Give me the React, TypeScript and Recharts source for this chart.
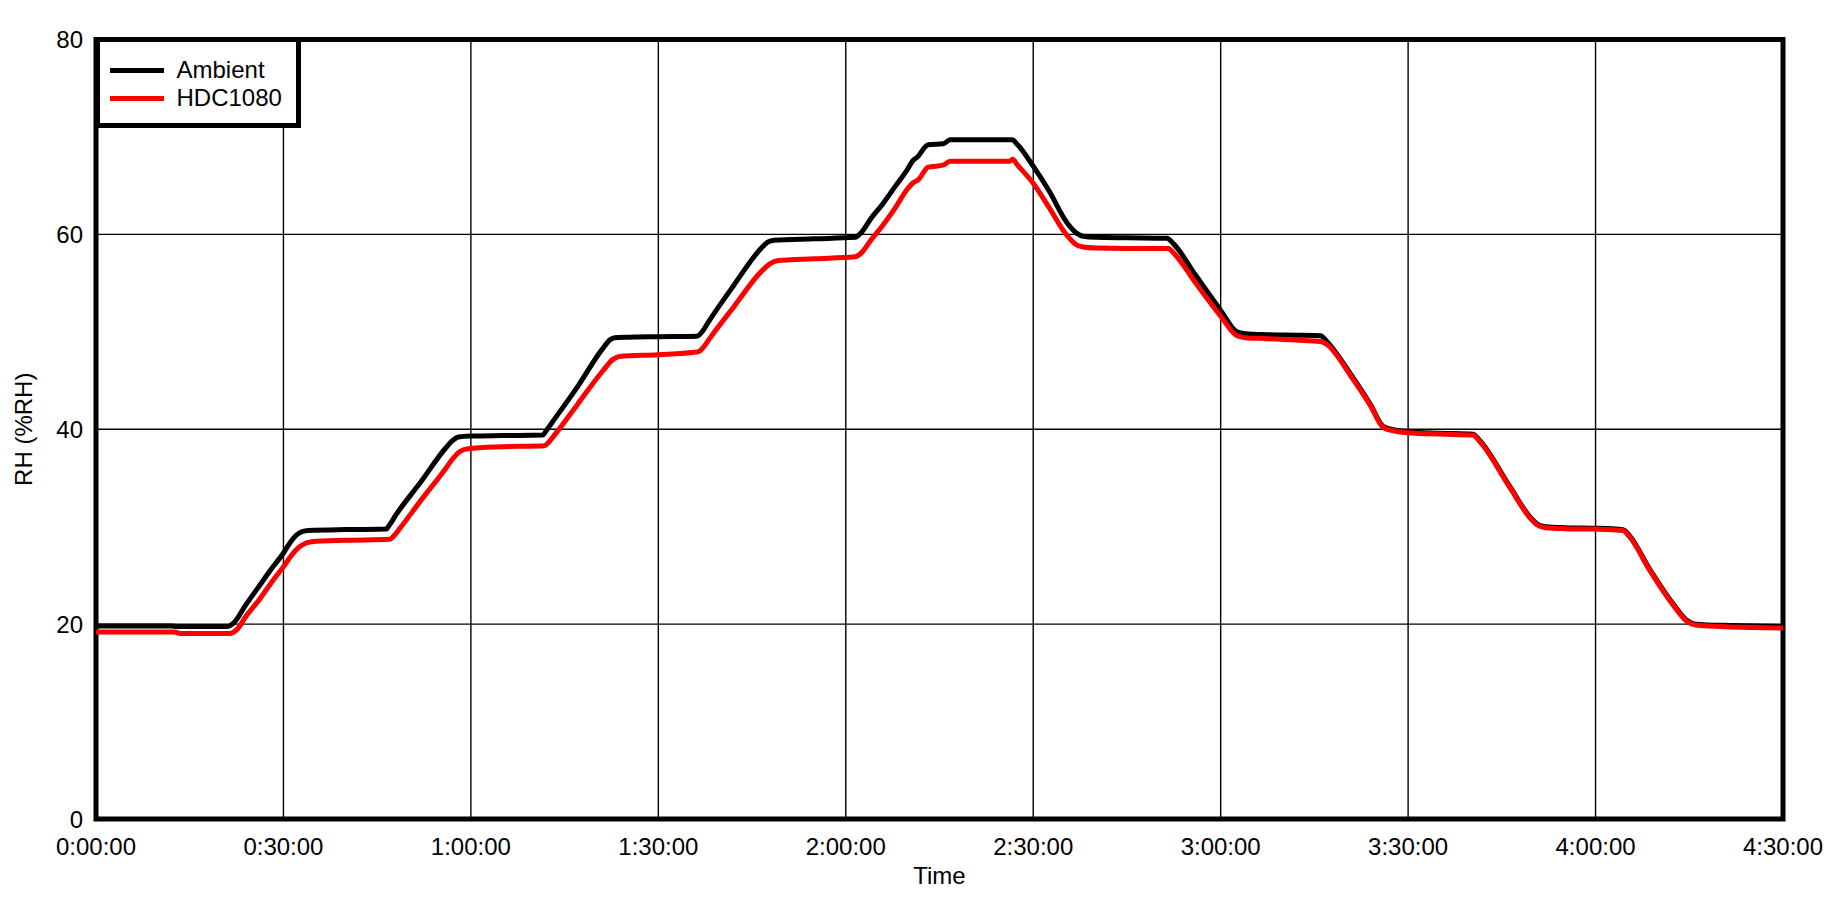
import React from 'react';
import { LineChart, Line, XAxis, YAxis, CartesianGrid, ReferenceArea, Legend } from 'recharts';

// Time in minutes since start
const ambientTime = [0, 12, 13, 21, 22, 24, 26, 28, 30, 31, 32, 33, 34, 40, 46.4, 47, 48, 52, 56, 57, 58, 60, 65, 71.5, 72, 73, 77, 81, 82.3, 83, 85, 90, 96.2, 97, 98, 102, 106.5, 107.5, 108.5, 115, 121.5, 122.5, 124, 126, 128, 129.8, 130.8, 131.4, 133.2, 135.6, 136.7, 140, 146.6, 147.5, 150, 152.5, 155.4, 157, 158, 160, 165, 171.4, 172.5, 176, 180, 182.6, 184, 187.4, 192, 196, 197, 200.7, 204, 206, 208, 210, 215, 220.4, 221.4, 226.3, 229.5, 230.6, 232, 235, 240, 244.4, 245.4, 248.7, 252.5, 254.6, 256, 262, 270];
const ambientRH = [19.8, 19.8, 19.75, 19.75, 20.1, 22.0, 23.8, 25.6, 27.3, 28.3, 29.1, 29.5, 29.6, 29.7, 29.75, 30.2, 31.2, 34.6, 38.1, 38.8, 39.2, 39.3, 39.35, 39.4, 39.8, 40.7, 44.3, 48.2, 49.2, 49.4, 49.45, 49.5, 49.55, 50.0, 51.0, 54.7, 58.6, 59.2, 59.4, 59.55, 59.7, 60.2, 61.6, 63.2, 65.0, 66.6, 67.6, 67.9, 69.2, 69.3, 69.7, 69.7, 69.7, 69.2, 67.0, 64.5, 61.2, 60.1, 59.8, 59.7, 59.65, 59.6, 59.0, 55.8, 52.2, 50.0, 49.8, 49.7, 49.65, 49.6, 49.0, 45.75, 42.5, 40.3, 39.9, 39.75, 39.6, 39.5, 38.9, 34.1, 31.0, 30.3, 30.0, 29.9, 29.85, 29.7, 29.1, 25.6, 22.0, 20.4, 20.0, 19.85, 19.75];

const hdcTime = [0, 12.5, 13.5, 21.5, 22.5, 24, 26, 28, 30, 31, 32, 33.1, 34.5, 40, 47, 47.6, 48.6, 52, 56, 57, 58.2, 59.5, 65, 71.8, 72.5, 73.5, 77, 81, 82.8, 84, 90, 96.4, 97.2, 98.2, 102, 106.5, 107.9, 109, 115, 121.5, 122.5, 124, 126, 128, 129.8, 130.8, 131.6, 133.2, 135.6, 136.7, 140, 146.2, 146.7, 147.5, 150, 152.5, 155.4, 157, 158, 160, 165, 171.6, 172.6, 176, 180, 182.6, 184, 187.4, 192, 196, 197, 200.7, 204, 206, 208, 210, 215, 220.4, 221.4, 226.3, 229.5, 230.6, 232, 235, 240, 244.4, 245.4, 248.7, 252.5, 254.6, 256, 262, 270];
const hdcRH = [19.2, 19.2, 19.05, 19.05, 19.4, 20.8, 22.4, 24.2, 25.9, 26.8, 27.6, 28.15, 28.45, 28.6, 28.7, 29.0, 29.8, 32.7, 36.0, 36.9, 37.7, 38.0, 38.2, 38.3, 38.7, 39.5, 42.5, 45.9, 47.2, 47.5, 47.65, 47.95, 48.4, 49.3, 52.5, 56.2, 57.0, 57.3, 57.5, 57.7, 58.1, 59.4, 61.0, 62.8, 64.6, 65.3, 65.6, 66.9, 67.1, 67.5, 67.5, 67.5, 67.7, 67.1, 65.25, 62.8, 59.9, 58.9, 58.7, 58.6, 58.55, 58.55, 58.0, 55.0, 51.6, 49.6, 49.4, 49.3, 49.15, 49.0, 48.7, 45.6, 42.4, 40.2, 39.8, 39.65, 39.5, 39.4, 38.8, 34.0, 30.9, 30.2, 29.9, 29.8, 29.75, 29.6, 29.0, 25.5, 21.9, 20.3, 19.9, 19.7, 19.6];

const xTicks = [0, 30, 60, 90, 120, 150, 180, 210, 240, 270];
const yTicks = [0, 20, 40, 60, 80];
const seriesNames = ['Ambient', 'HDC1080'];
const seriesColors = ['#000000', '#ff0000'];

const ambientData = ambientTime.map((t, i) => ({ t, v: ambientRH[i] }));
const hdcData = hdcTime.map((t, i) => ({ t, v: hdcRH[i] }));

const FONT = '"Liberation Sans", Arial, sans-serif';

const fmtTime = (m: number) => {
  const h = Math.floor(m / 60);
  const mm = Math.round(m % 60);
  return `${h}:${String(mm).padStart(2, '0')}:00`;
};

const LegendBox = () => (
  <div
    style={{
      width: 206,
      height: 91,
      boxSizing: 'border-box',
      border: '5px solid #000',
      background: '#fff',
      fontFamily: FONT,
      fontSize: 24,
      color: '#000',
      position: 'relative',
    }}
  >
    {seriesNames.map((n, i) => (
      <div
        key={n}
        style={{ position: 'absolute', left: 10, top: 14 + i * 28, height: 28, display: 'flex', alignItems: 'center' }}
      >
        <div style={{ width: 54, height: 5, background: seriesColors[i] }} />
        <span style={{ marginLeft: 13, lineHeight: '28px' }}>{n}</span>
      </div>
    ))}
  </div>
);

export default function App() {
  return (
    <div style={{ position: 'absolute', left: 0, top: 0, width: 1846, height: 901, background: '#fff' }}>
      <LineChart width={1846} height={901} margin={{ top: 39.5, right: 63, bottom: 0, left: 0 }}>
        <CartesianGrid stroke="#000" strokeWidth={1.4} />
        <XAxis
          dataKey="t"
          type="number"
          domain={[0, 270]}
          ticks={xTicks}
          tickFormatter={fmtTime}
          height={82}
          axisLine={false}
          tickLine={false}
          tickSize={0}
          tickMargin={19}
          interval={0}
          allowDataOverflow
          tick={{ fill: '#000', fontSize: 24, fontFamily: FONT }}
          label={{ value: 'Time', position: 'insideBottom', offset: 17, fill: '#000', fontSize: 24, fontFamily: FONT }}
        />
        <YAxis
          type="number"
          domain={[0, 80]}
          ticks={yTicks}
          width={96}
          axisLine={false}
          tickLine={false}
          tickSize={0}
          tickMargin={13}
          interval={0}
          allowDataOverflow
          tick={{ fill: '#000', fontSize: 24, fontFamily: FONT }}
          label={{
            value: 'RH (%RH)',
            angle: -90,
            position: 'insideLeft',
            offset: 23,
            fill: '#000',
            fontSize: 24,
            fontFamily: FONT,
            style: { textAnchor: 'middle' },
          }}
        />
        <Line
          data={ambientData}
          dataKey="v"
          name={seriesNames[0]}
          type="monotone"
          stroke={seriesColors[0]}
          strokeWidth={5}
          dot={false}
          activeDot={false}
          isAnimationActive={false}
        />
        <Line
          data={hdcData}
          dataKey="v"
          name={seriesNames[1]}
          type="monotone"
          stroke={seriesColors[1]}
          strokeWidth={5}
          dot={false}
          activeDot={false}
          isAnimationActive={false}
        />
        <ReferenceArea x1={0} x2={270} y1={0} y2={80} fill="none" fillOpacity={0} stroke="#000" strokeWidth={5} ifOverflow="visible" />
        <Legend
          layout="vertical"
          align="center"
          verticalAlign="middle"
          content={() => <LegendBox />}
          wrapperStyle={{ position: 'absolute', left: 94.5, top: 37, width: 206, height: 91, margin: 0, padding: 0 }}
        />
      </LineChart>
    </div>
  );
}
